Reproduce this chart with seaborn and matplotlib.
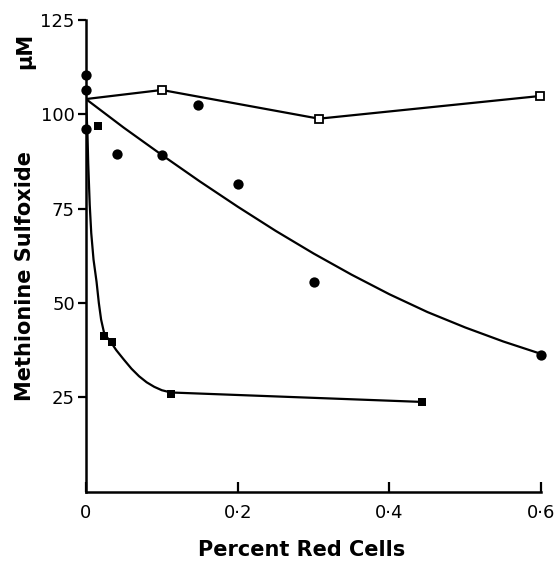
import matplotlib
matplotlib.use("Agg")
import matplotlib.pyplot as plt
import seaborn as sns

# open squares
open_x = [0.0, 0.10, 0.307, 0.598]
open_y = [104.0, 106.4, 98.8, 104.8]

# filled circles (measured points)
circ_x = [0.0, 0.0, 0.0, 0.041, 0.10, 0.148, 0.20, 0.30, 0.60]
circ_y = [110.4, 106.4, 96.0, 89.4, 89.1, 102.4, 81.4, 55.6, 36.3]

# curve drawn through the circles
circ_curve_x = [0.0, 0.05, 0.10, 0.15, 0.20, 0.25, 0.30, 0.35, 0.40, 0.45, 0.50, 0.55, 0.60]
circ_curve_y = [104.0, 96.4, 89.2, 82.2, 75.5, 69.1, 63.1, 57.5, 52.3, 47.6, 43.5, 39.8, 36.5]

# filled squares
sq_x = [0.016, 0.024, 0.034, 0.112, 0.443]
sq_y = [96.8, 41.2, 39.6, 26.0, 23.8]

# curve drawn through the filled squares
sq_curve_x = [0.0, 0.002, 0.003, 0.005, 0.007, 0.010, 0.014, 0.017, 0.020, 0.024,
              0.029, 0.034, 0.040, 0.050, 0.060, 0.070, 0.080, 0.090, 0.100, 0.112, 0.443]
sq_curve_y = [104.0, 95.0, 87.0, 76.0, 68.5, 61.5, 55.6, 50.0, 45.6, 42.0,
              40.6, 39.3, 37.5, 35.0, 32.6, 30.6, 29.0, 27.8, 26.9, 26.3, 23.8]

x_ticks = [0, 0.2, 0.4, 0.6]
x_labels = ["0", "0\u00b72", "0\u00b74", "0\u00b76"]
y_ticks = [25, 50, 75, 100, 125]

sns.set_style("ticks")
plt.rcParams["font.family"] = ["DejaVu Sans"]
for key in ["text.color", "axes.labelcolor", "xtick.color", "ytick.color", "axes.edgecolor"]:
    plt.rcParams[key] = "black"

fig = plt.figure(figsize=(5.58, 5.64), dpi=100)
ax = fig.add_axes([0.154, 0.128, 0.816, 0.837])

line_kw = dict(color="black", linewidth=1.6, estimator=None, sort=False, ax=ax, legend=False)
sns.lineplot(x=circ_curve_x, y=circ_curve_y, **line_kw)
sns.lineplot(x=sq_curve_x, y=sq_curve_y, **line_kw)
sns.lineplot(x=open_x, y=open_y, **line_kw)

ax.plot(open_x[1:], open_y[1:], linestyle="none", marker="s", markersize=5.5,
        markerfacecolor="white", markeredgecolor="black", markeredgewidth=1.3,
        clip_on=False, zorder=4)
sns.scatterplot(x=circ_x, y=circ_y, ax=ax, color="black", s=55, marker="o",
                linewidth=0, clip_on=False, zorder=5)
sns.scatterplot(x=sq_x, y=sq_y, ax=ax, color="black", s=40, marker="s",
                linewidth=0, clip_on=False, zorder=5)

ax.set_xlim(0, 0.6)
ax.set_ylim(0, 125)
ax.set_xticks(x_ticks)
ax.set_xticklabels(x_labels)
ax.set_yticks(y_ticks)
sns.despine(ax=ax)
for s in ["left", "bottom"]:
    ax.spines[s].set_linewidth(1.8)
ax.tick_params(axis="x", direction="in", length=7, width=1.6, labelsize=13, pad=9)
ax.tick_params(axis="y", direction="out", length=6, width=1.6, labelsize=13, pad=2)

fig.text(0.045, 0.51, "Methionine Sulfoxide", rotation=90, ha="center", va="center",
         fontsize=15, fontweight="heavy")
fig.text(0.045, 0.91, "\u03bcM", rotation=90, ha="center", va="center",
         fontsize=15, fontweight="heavy")
fig.text(0.54, 0.025, "Percent Red Cells", ha="center", va="center",
         fontsize=15, fontweight="heavy")

fig.savefig("out.png", dpi=100)
